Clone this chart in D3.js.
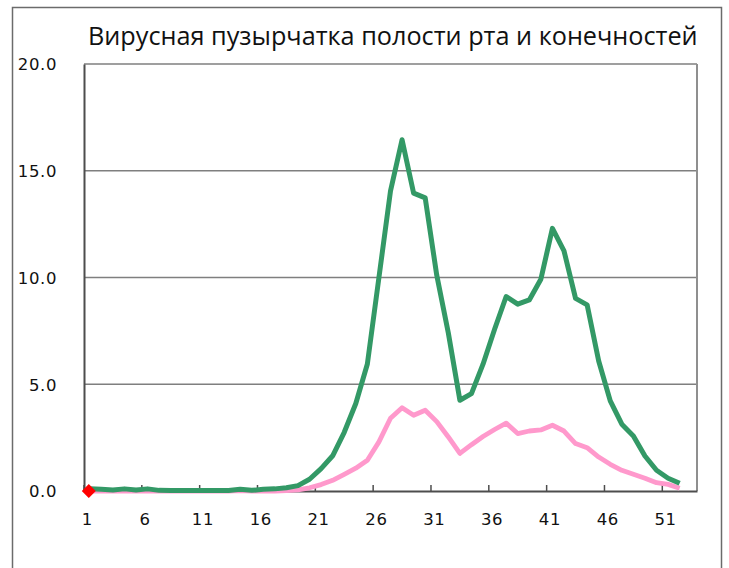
<!DOCTYPE html>
<html lang="ru">

<head>
    <meta charset="UTF-8">
    <title>Вирусная пузырчатка полости рта и конечностей</title>
    <style>
        body {
            margin: 0;
            background: #fff;
        }

        #chart text {
            fill: #111;
        }
    </style>
</head>

<body>
    <svg id="chart" width="729" height="568"></svg>

    <script src="https://d3js.org/d3.v7.min.js"></script>
    <script>
        // weekly values
        const weeks = d3.range(1, 54); // 53 category slots on the axis
        const tickWeeks = [1, 6, 11, 16, 21, 26, 31, 36, 41, 46, 51];
        const yTicks = [0, 5, 10, 15, 20];

        const greenValues = [
            0.10, 0.08, 0.05, 0.10, 0.05, 0.10, 0.03, 0.02, 0.02, 0.02,
            0.02, 0.02, 0.02, 0.08, 0.03, 0.08, 0.10, 0.15, 0.25, 0.55,
            1.05, 1.65, 2.75, 4.10, 5.95, 10.0, 14.05, 16.45, 13.95, 13.73,
            10.1, 7.40, 4.25, 4.56, 5.94, 7.58, 9.11, 8.75, 8.95, 9.92,
            12.3, 11.25, 9.02, 8.72, 6.09, 4.22, 3.13, 2.58, 1.64, 0.97,
            0.60, 0.36
        ];

        const pinkValues = [
            0.00, 0.00, 0.00, 0.00, 0.00, 0.00, 0.00, 0.00, 0.00, 0.00,
            0.00, 0.00, 0.00, 0.02, 0.00, 0.00, 0.00, 0.02, 0.05, 0.15,
            0.30, 0.50, 0.78, 1.07, 1.44, 2.30, 3.41, 3.90, 3.55, 3.78,
            3.25, 2.53, 1.76, 2.17, 2.55, 2.88, 3.18, 2.69, 2.81, 2.86,
            3.08, 2.81, 2.22, 2.03, 1.59, 1.25, 0.97, 0.78, 0.60, 0.39,
            0.31, 0.13
        ];

        // current season, only the first week so far
        const redValues = [0.0];

        const titleText = "Вирусная пузырчатка полости рта и конечностей";

        const svg = d3.select("#chart");
        const plot = { left: 84, right: 697, top: 64, bottom: 491 };

        // outer chart frame
        svg.append("rect")
            .attr("x", 12.5)
            .attr("y", 7.5)
            .attr("width", 709)
            .attr("height", 600)
            .attr("fill", "none")
            .attr("stroke", "#6b6b6b")
            .attr("stroke-width", 1.5);

        const x = d3.scaleBand()
            .domain(weeks)
            .range([plot.left, plot.right]);

        const y = d3.scaleLinear()
            .domain([0, 20])
            .range([plot.bottom, plot.top]);

        const cx = w => x(w) + x.bandwidth() / 2;

        // gridlines
        svg.append("g")
            .selectAll("line")
            .data(yTicks.filter(d => d > 0))
            .enter().append("line")
            .attr("x1", plot.left)
            .attr("x2", plot.right)
            .attr("y1", d => y(d))
            .attr("y2", d => y(d))
            .attr("stroke", "#7f7f7f")
            .attr("stroke-width", 1.4);

        // plot area border (right side)
        svg.append("line")
            .attr("x1", plot.right)
            .attr("x2", plot.right)
            .attr("y1", plot.top)
            .attr("y2", plot.bottom)
            .attr("stroke", "#8f8f8f")
            .attr("stroke-width", 2);

        // Y axis
        const yAxis = svg.append("g")
            .attr("transform", `translate(${plot.left},0)`)
            .call(d3.axisLeft(y).tickValues(yTicks).tickFormat(d3.format(".1f")).tickSize(0).tickPadding(27));
        yAxis.select(".domain").attr("stroke", "#4d4d4d").attr("stroke-width", 2);
        yAxis.selectAll("text")
            .attr("font-family", "DejaVu Sans, sans-serif")
            .attr("font-size", 16.5)
            .attr("letter-spacing", 0.6)
            .attr("dy", "0.36em");

        // X axis, ticks sit between categories
        const xAxis = svg.append("g")
            .attr("transform", `translate(0,${plot.bottom})`)
            .call(d3.axisBottom(x).tickValues(tickWeeks).tickSize(0).tickPadding(22));
        xAxis.select(".domain").attr("stroke", "#4d4d4d").attr("stroke-width", 2);
        xAxis.selectAll(".tick text")
            .attr("x", -2.5)
            .attr("font-family", "DejaVu Sans, sans-serif")
            .attr("font-size", 16.5)
            .attr("letter-spacing", 0.6);
        xAxis.selectAll(".tick")
            .append("line")
            .attr("x1", -x.bandwidth() / 2)
            .attr("x2", -x.bandwidth() / 2)
            .attr("y1", 0)
            .attr("y2", -6)
            .attr("stroke", "#4d4d4d")
            .attr("stroke-width", 1.5);

        const line = d3.line()
            .x((d, i) => cx(weeks[i]))
            .y(d => y(d));

        svg.append("path")
            .datum(pinkValues)
            .attr("d", line)
            .attr("fill", "none")
            .attr("stroke", "#ff99cc")
            .attr("stroke-width", 4.8)
            .attr("stroke-linejoin", "round");

        svg.append("path")
            .datum(greenValues)
            .attr("d", line)
            .attr("fill", "none")
            .attr("stroke", "#339966")
            .attr("stroke-width", 5)
            .attr("stroke-linejoin", "round");

        // red diamond marker
        svg.selectAll(".red-point")
            .data(redValues)
            .enter().append("path")
            .attr("class", "red-point")
            .attr("d", "M0,-7L7,0L0,7L-7,0Z")
            .attr("transform", (d, i) => `translate(${cx(weeks[i]) - 1},${y(d)})`)
            .attr("fill", "#ff0000");

        // title, stretched to the width of the plot area
        const title = svg.append("text")
            .attr("x", 88)
            .attr("y", 45)
            .attr("font-family", "Open Sans, sans-serif")
            .attr("font-size", 25)
            .text(titleText);
        const tw = title.node().getComputedTextLength();
        title.attr("font-size", 25 * 610 / tw);
    </script>
</body>

</html>
